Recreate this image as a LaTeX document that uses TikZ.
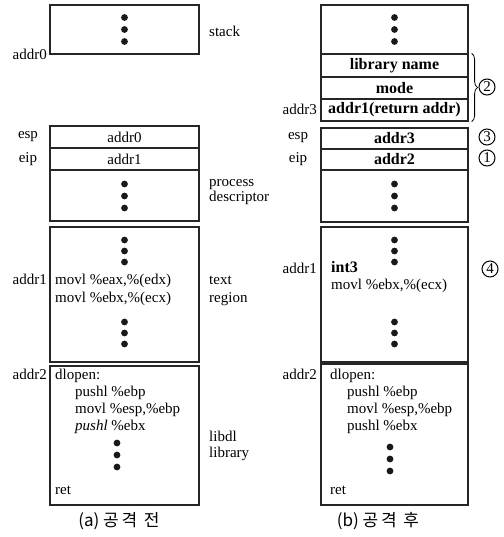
\documentclass[tikz,border=0pt]{standalone}
\usepackage{fontspec}
\setmainfont{Liberation Serif}
\newfontfamily\krfont{Noto Sans CJK KR}
\usetikzlibrary{decorations.pathreplacing}
\newcommand\tdots[3]{\foreach \k in {0,1,2}{\fill[black!90] (#1,#2+\k*#3) circle (3.4pt);}}
\begin{document}
\begin{tikzpicture}[x=1pt,y=-1pt,
 box/.style={draw=black!85,line width=1.2pt,inner sep=0pt,minimum width=149pt,font=\fontsize{15}{17}\selectfont},
 rbox/.style={box,minimum width=147pt,font=\fontsize{16}{18}\selectfont\bfseries},
 lab/.style={inner sep=0pt,font=\fontsize{15}{17}\selectfont},
 bw/.style={lab,anchor=base west},
 be/.style={lab,anchor=base east},
 bold/.style={bw,font=\fontsize{16}{18}\selectfont\bfseries},
 num/.style={circle,draw,line width=1pt,inner sep=0pt,minimum size=16pt,font=\fontsize{15}{15}\selectfont},
 captext/.style={inner sep=0pt,font=\krfont\fontsize{17}{19}\selectfont}
]
\useasboundingbox (0,0) rectangle (503,537);

% ---------- (a) left column ----------
\node[box,minimum height=49pt] (stackL) at (124.5,29.5) {};
\node[box,minimum height=22pt] (espL) at (124.5,137) {addr0};
\node[box,minimum height=22pt] (eipL) at (124.5,159) {addr1};
\node[box,minimum height=51pt] (procL) at (124.5,195.5) {};
\node[box,minimum height=135pt] (textL) at (124.5,294.5) {};
\node[box,minimum height=139pt] (libL) at (124.5,435.5) {};

\tdots{124.5}{17.5}{12}
\tdots{124.5}{184}{12}
\tdots{124.5}{240}{11}
\tdots{124.5}{322}{11}
\tdots{117}{443}{12}

\node[bw] (stackT) at (209,37) {stack};
\node[lab,anchor=east] (a0) at (47,54) {addr0};
\node[lab] (espLab) at (28,137) {esp};
\node[lab] (eipLab) at (28,159) {eip};
\node[bw] (procT1) at (209,186) {process};
\node[bw] (procT2) at (209,201) {descriptor};
\node[bw] (textT1) at (209,284) {text};
\node[bw] (textT2) at (209,302) {region};
\node[bw] (libT1) at (209,441) {libdl};
\node[bw] (libT2) at (209,457) {library};

\node[be] (a1L) at (47,284) {addr1};
\node[bw] (c1L) at (55,284) {movl \%eax,\%(edx)};
\node[bw] (c2L) at (55,302) {movl \%ebx,\%(ecx)};

\node[be] (a2L) at (47,379) {addr2};
\node[bw] (d1L) at (55,379) {dlopen:};
\node[bw] (d2L) at (75,396) {pushl \%ebp};
\node[bw] (d3L) at (75,413) {movl \%esp,\%ebp};
\node[bw] (d4L) at (75,430) {\textit{pushl} \%ebx};
\node[bw] (d5L) at (55,494) {ret};

\node[captext] (capA) at (119,521) {(a) 공\,격\, 전};

% ---------- (b) right column ----------
\node[rbox,minimum height=49pt] (stackR) at (394.5,29.5) {};
\node[rbox,minimum height=23pt] (libname) at (394.5,65.5) {library name};
\node[rbox,minimum height=22pt] (mode) at (394.5,88) {mode};
\node[rbox,minimum height=22pt] (retaddr) at (394.5,110) {addr1(return addr)};
\node[rbox,minimum height=21pt] (espR) at (394.5,138.5) {addr3};
\node[rbox,minimum height=21pt] (eipR) at (394.5,159.5) {addr2};
\node[rbox,minimum height=52pt] (procR) at (394.5,196) {};
\node[rbox,minimum height=135pt] (textR) at (394.5,294.5) {};
\node[rbox,minimum height=141pt] (libR) at (394.5,434.5) {};

\tdots{394.5}{17.5}{12}
\tdots{394.5}{184}{12}
\tdots{394.5}{240}{11}
\tdots{394.5}{322}{11}
\tdots{390}{447}{12}

\node[be] (a3R) at (317,115) {addr3};
\node[lab] (espLabR) at (298,138) {esp};
\node[lab] (eipLabR) at (298,159) {eip};

\node[be] (a1R) at (317,273) {addr1};
\node[bold] (intR) at (331,272) {int3};
\node[bw] (c2R) at (331,289) {movl \%ebx,\%(ecx)};

\node[be] (a2R) at (317,379) {addr2};
\node[bw] (d1R) at (330,379) {dlopen:};
\node[bw] (d2R) at (347,396) {pushl \%ebp};
\node[bw] (d3R) at (347,413) {movl \%esp,\%ebp};
\node[bw] (d4R) at (347,430) {pushl \%ebx};
\node[bw] (d5R) at (330,494) {ret};

\node[captext] (capB) at (378,521) {(b) 공\,격\, 후};

\draw[line width=0.8pt,decorate,decoration={brace,amplitude=6pt}]
  ([xshift=3pt]libname.north east) -- ([xshift=3pt]retaddr.south east);
\node[num] (n2) at (487,87) {2};
\node[num] (n3) at (487,137) {3};
\node[num] (n1) at (487,158) {1};
\node[num] (n4) at (490,269) {4};
\end{tikzpicture}
\end{document}
